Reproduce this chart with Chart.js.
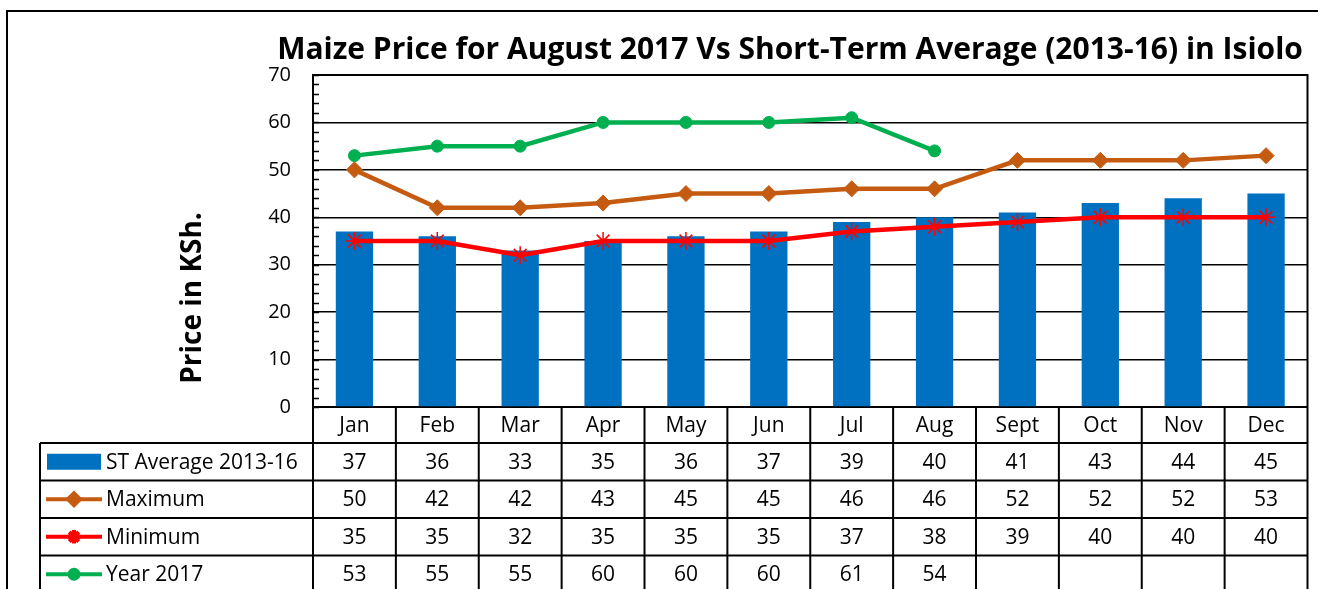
<!DOCTYPE html>
<html>
<head>
<meta charset="utf-8">
<script src="https://cdn.jsdelivr.net/npm/chart.js@4.4.0/dist/chart.umd.min.js"></script>
<style>
  html, body { margin: 0; padding: 0; background: #fff; }
</style>
</head>
<body>
<canvas id="maizeChart" width="1318" height="589"></canvas>
<script>
// ---- data ----
const months = ["Jan", "Feb", "Mar", "Apr", "May", "Jun", "Jul", "Aug", "Sept", "Oct", "Nov", "Dec"];
const stAverage = [37, 36, 33, 35, 36, 37, 39, 40, 41, 43, 44, 45];
const maximum = [50, 42, 42, 43, 45, 45, 46, 46, 52, 52, 52, 53];
const minimum = [35, 35, 32, 35, 35, 35, 37, 38, 39, 40, 40, 40];
const year2017 = [53, 55, 55, 60, 60, 60, 61, 54, null, null, null, null];
const seriesNames = ["ST Average 2013-16", "Maximum", "Minimum", "Year 2017"];
const yMin = 0, yMax = 70, yStep = 10, yMinorStep = 2;

const titleText = "Maize Price for August 2017 Vs Short-Term Average (2013-16) in Isiolo";
const yTitleText = "Price in KSh.";

const FONT = "'Open Sans', 'Liberation Sans', sans-serif";
const BLUE = "#0070C0", BROWN = "#C55A11", RED = "#FF0000", GREEN = "#00B050";

// ---- drawing of frame, title, minor ticks and data table ----
const tablePlugin = {
  id: "tablePlugin",
  beforeDraw(chart) {
    const ctx = chart.ctx;
    ctx.save();
    ctx.fillStyle = "#fff";
    ctx.fillRect(0, 0, chart.width, chart.height);
    // outer chart frame
    ctx.strokeStyle = "#000";
    ctx.lineWidth = 2;
    ctx.beginPath();
    ctx.moveTo(7, chart.height);
    ctx.lineTo(7, 11);
    ctx.lineTo(chart.width, 11);
    ctx.stroke();
    ctx.restore();
  },
  afterDraw(chart) {
    const ctx = chart.ctx;
    const a = chart.chartArea;
    const xs = chart.scales.x;
    const ys = chart.scales.y;
    const colW = (a.right - a.left) / months.length;
    ctx.save();

    // plot border (right + top)
    ctx.strokeStyle = "#000";
    ctx.lineWidth = 2;
    ctx.beginPath();
    ctx.moveTo(a.left, a.top);
    ctx.lineTo(a.right, a.top);
    ctx.lineTo(a.right, a.bottom);
    ctx.stroke();

    // minor ticks inside the y axis
    ctx.lineWidth = 1.5;
    ctx.beginPath();
    for (let v = yMin; v <= yMax; v += yMinorStep) {
      const py = Math.round(ys.getPixelForValue(v)) + 0.5;
      ctx.moveTo(a.left, py);
      ctx.lineTo(a.left + 6, py);
    }
    ctx.stroke();

    // title
    ctx.fillStyle = "#000";
    ctx.font = "bold 30px " + FONT;
    ctx.textAlign = "center";
    ctx.textBaseline = "middle";
    ctx.fillText(titleText, 790, 50);

    // y axis title
    ctx.save();
    ctx.translate(193, 298);
    ctx.rotate(-Math.PI / 2);
    ctx.font = "bold 28px " + FONT;
    ctx.fillText(yTitleText, 0, 0);
    ctx.restore();

    // ---- data table ----
    const legendLeft = 40;
    const headTop = a.bottom;
    const headH = 36;
    const rowH = 37.5;
    const rowsTop = headTop + headH;
    const bottom = chart.height + 5;

    ctx.lineWidth = 2;
    ctx.strokeStyle = "#000";
    ctx.beginPath();
    // horizontal lines
    ctx.moveTo(legendLeft, rowsTop);
    ctx.lineTo(a.right, rowsTop);
    for (let r = 1; r <= seriesNames.length; r++) {
      const y = rowsTop + r * rowH;
      ctx.moveTo(legendLeft, y);
      ctx.lineTo(a.right, y);
    }
    // vertical lines
    for (let c = 0; c <= months.length; c++) {
      const x = a.left + c * colW;
      ctx.moveTo(x, headTop);
      ctx.lineTo(x, bottom);
    }
    ctx.moveTo(legendLeft, rowsTop);
    ctx.lineTo(legendLeft, bottom);
    ctx.stroke();

    ctx.font = "21px " + FONT;
    ctx.textAlign = "center";
    ctx.textBaseline = "middle";
    months.forEach((m, i) => {
      ctx.fillText(m, xs.getPixelForValue(i), headTop + headH / 2 + 1);
    });

    const rows = [stAverage, maximum, minimum, year2017];
    rows.forEach((vals, r) => {
      const cy = rowsTop + r * rowH + rowH / 2 + 1;
      vals.forEach((v, i) => {
        if (v !== null) ctx.fillText(String(v), xs.getPixelForValue(i), cy);
      });
    });

    // legend keys
    const ds = chart.data.datasets;
    rows.forEach((vals, r) => {
      const cy = rowsTop + r * rowH + rowH / 2;
      const d = ds[r];
      if (d.type === "bar") {
        ctx.fillStyle = d.backgroundColor;
        ctx.fillRect(47, cy - 8, 54, 16);
      } else {
        ctx.strokeStyle = d.borderColor;
        ctx.lineWidth = 4;
        ctx.beginPath();
        ctx.moveTo(46, cy);
        ctx.lineTo(102, cy);
        ctx.stroke();
        ctx.fillStyle = d.pointBackgroundColor;
        ctx.strokeStyle = d.pointBorderColor;
        Chart.helpers.drawPoint(ctx, {
          pointStyle: d.pointStyle,
          radius: d.pointRadius * 0.75,
          rotation: 0,
          borderWidth: d.pointBorderWidth
        }, 74, cy);
      }
      ctx.fillStyle = "#000";
      ctx.textAlign = "left";
      ctx.font = "21px " + FONT;
      ctx.fillText(seriesNames[r], 106, cy + 1);
    });

    ctx.restore();
  }
};

const ctx = document.getElementById("maizeChart");
new Chart(ctx, {
  data: {
    labels: months,
    datasets: [
      {
        type: "bar",
        label: seriesNames[0],
        data: stAverage,
        backgroundColor: BLUE,
        barPercentage: 0.45,
        categoryPercentage: 1,
        order: 4
      },
      {
        type: "line",
        label: seriesNames[1],
        data: maximum,
        borderColor: BROWN,
        borderWidth: 4.5,
        pointStyle: "rectRot",
        pointRadius: 8,
        pointBackgroundColor: BROWN,
        pointBorderColor: BROWN,
        pointBorderWidth: 1,
        tension: 0,
        order: 2
      },
      {
        type: "line",
        label: seriesNames[2],
        data: minimum,
        borderColor: RED,
        borderWidth: 4.5,
        pointStyle: "star",
        pointRadius: 9,
        pointBackgroundColor: RED,
        pointBorderColor: RED,
        pointBorderWidth: 1.5,
        tension: 0,
        order: 1
      },
      {
        type: "line",
        label: seriesNames[3],
        data: year2017,
        borderColor: GREEN,
        borderWidth: 4.5,
        pointStyle: "circle",
        pointRadius: 6,
        pointBackgroundColor: GREEN,
        pointBorderColor: GREEN,
        pointBorderWidth: 1,
        spanGaps: false,
        tension: 0,
        order: 3
      }
    ]
  },
  options: {
    responsive: false,
    animation: false,
    layout: { padding: { top: 75, right: 5, left: 0, bottom: 0 } },
    plugins: {
      legend: { display: false },
      title: { display: false },
      tooltip: { enabled: false }
    },
    scales: {
      x: {
        offset: true,
        grid: { display: false, drawTicks: false },
        border: { display: true, color: "#000", width: 2 },
        ticks: { display: false },
        afterFit: s => { s.height = 182; }
      },
      y: {
        min: yMin,
        max: yMax,
        ticks: {
          stepSize: yStep,
          padding: 22,
          color: "#000",
          font: { family: FONT, size: 20 }
        },
        grid: { color: "#000", lineWidth: 1.5, drawTicks: false },
        border: { display: true, color: "#000", width: 2 },
        afterFit: s => { s.width = 313; }
      }
    }
  },
  plugins: [tablePlugin]
});
</script>
</body>
</html>
